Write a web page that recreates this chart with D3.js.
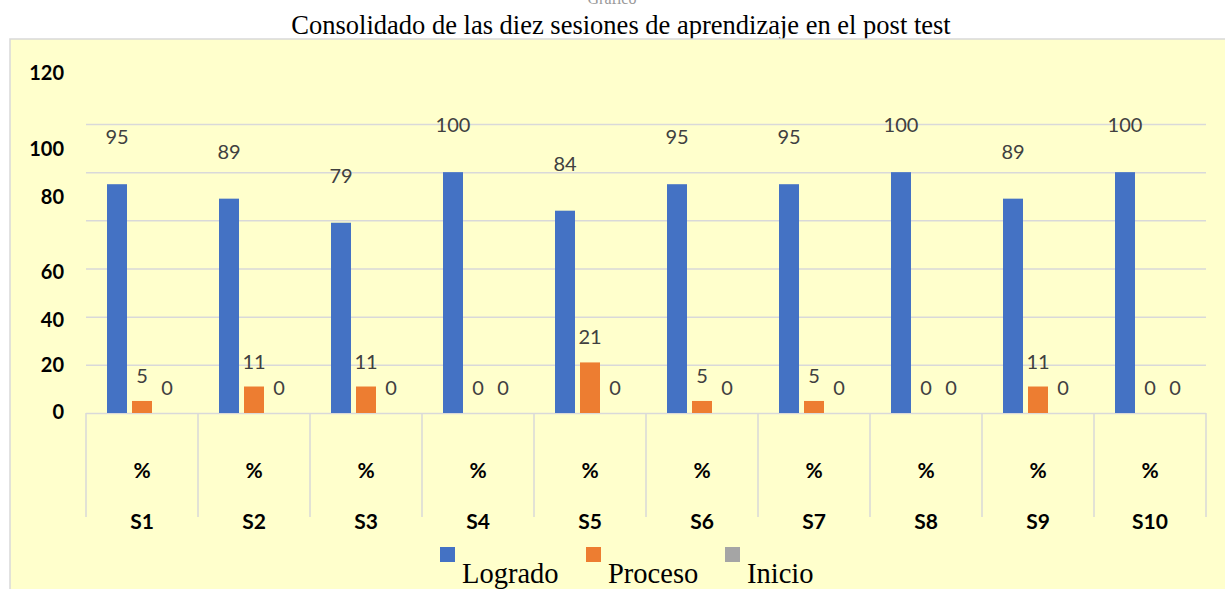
<!DOCTYPE html>
<html>
<head>
<meta charset="utf-8">
<script src="https://cdn.jsdelivr.net/npm/d3@7"></script>
<style>
  body { margin: 0; background: #fff; }
  svg { display: block; }
</style>
</head>
<body>
<div id="chart"></div>
<script>
(function() {

  // datos
  const sessions = ['S1', 'S2', 'S3', 'S4', 'S5', 'S6', 'S7', 'S8', 'S9', 'S10'];
  const unitLabel = '%';
  const seriesNames = ['Logrado', 'Proceso', 'Inicio'];
  const logrado = [95, 89, 79, 100, 84, 95, 95, 100, 89, 100];
  const proceso = [5, 11, 11, 0, 21, 5, 5, 0, 11, 0];
  const inicio = [0, 0, 0, 0, 0, 0, 0, 0, 0, 0];
  const yTicks = [0, 20, 40, 60, 80, 100, 120];

  const colors = {
    Logrado: '#4472C4',
    Proceso: '#ED7D31',
    Inicio: '#A5A5A5'
  };

  const size = { x: 1225, y: 589 };
  const plot = { left: 86, right: 1206, top: 124, bottom: 413 };

  // desplazamiento de las etiquetas del eje y (como en la imagen)
  const tickShift = { 0: -2, 20: 0, 40: 3, 60: 3, 80: -24, 100: -24, 120: -52 };

  const rows = sessions.map((s, i) => ({
    session: s,
    values: [
      { key: 'Logrado', value: logrado[i] },
      { key: 'Proceso', value: proceso[i] },
      { key: 'Inicio', value: inicio[i] }
    ]
  }));

  let svg = d3.select('#chart')
    .append('svg')
    .attr('width', size.x)
    .attr('height', size.y);

  // texto cortado arriba
  svg.append('text')
    .attr('x', 612)
    .attr('y', 4)
    .attr('text-anchor', 'middle')
    .attr('font-family', 'Liberation Serif')
    .attr('font-size', 16)
    .attr('fill', '#999')
    .text('Gráfico');

  svg.append('text')
    .attr('x', 621)
    .attr('y', 34)
    .attr('text-anchor', 'middle')
    .attr('font-family', 'Liberation Serif')
    .attr('font-size', 26.5)
    .attr('fill', '#000')
    .text('Consolidado de las diez sesiones de aprendizaje en el post test');

  // fondo del gráfico
  svg.append('rect')
    .attr('x', 10)
    .attr('y', 39)
    .attr('width', size.x)
    .attr('height', size.y)
    .attr('fill', '#FFFFCC')
    .attr('stroke', '#d9d9d9')
    .attr('stroke-width', 1.5);

  let xScale = d3.scaleBand()
    .domain(sessions)
    .range([plot.left, plot.right]);

  let xInner = d3.scaleBand()
    .domain(seriesNames)
    .range([0, xScale.bandwidth()])
    .paddingInner(0.2)
    .paddingOuter(0.84);

  let yScale = d3.scaleLinear()
    .domain([0, 120])
    .range([plot.bottom, plot.top]);

  // lineas de cuadricula
  svg.append('g')
    .attr('transform', `translate(${plot.left}, 0)`)
    .call(d3.axisLeft(yScale).tickValues(yTicks).tickSize(-(plot.right - plot.left)).tickFormat(''))
    .call(g => g.select('.domain').remove())
    .selectAll('line')
      .attr('stroke', '#d9d9d9')
      .attr('stroke-width', 1.5);

  // etiquetas eje y
  let yAxis = svg.append('g')
    .attr('transform', 'translate(64, 0)')
    .call(d3.axisLeft(yScale).tickValues(yTicks).tickSize(0).tickPadding(0));
  yAxis.select('.domain').remove();
  yAxis.selectAll('text')
    .attr('font-family', 'Lato')
    .attr('font-weight', 'bold')
    .attr('font-size', 20)
    .attr('fill', '#000')
    .attr('dy', d => (tickShift[d] || 0) + 7);

  // divisiones de categorias
  let catLines = sessions.map(s => xScale(s)).concat([plot.right]);
  svg.append('g')
    .selectAll('line')
    .data(catLines)
    .enter()
    .append('line')
      .attr('x1', d => d)
      .attr('x2', d => d)
      .attr('y1', plot.bottom)
      .attr('y2', 517)
      .attr('stroke', '#d9d9d9')
      .attr('stroke-width', 1.5);

  let cats = svg.append('g')
    .selectAll('.cat')
    .data(sessions)
    .enter()
    .append('g')
      .attr('class', 'cat')
      .attr('transform', d => `translate(${xScale(d) + xScale.bandwidth() / 2}, 0)`);

  cats.append('text')
    .attr('y', 478)
    .attr('text-anchor', 'middle')
    .attr('font-family', 'Lato')
    .attr('font-weight', 'bold')
    .attr('font-size', 21)
    .text(unitLabel);

  cats.append('text')
    .attr('y', 529)
    .attr('text-anchor', 'middle')
    .attr('font-family', 'Lato')
    .attr('font-weight', 'bold')
    .attr('font-size', 21)
    .text(d => d);

  // barras
  let groups = svg.append('g')
    .selectAll('.grp')
    .data(rows)
    .enter()
    .append('g')
      .attr('class', 'grp')
      .attr('transform', d => `translate(${xScale(d.session)}, 0)`);

  groups.selectAll('rect')
    .data(d => d.values)
    .enter()
    .append('rect')
      .attr('x', d => xInner(d.key))
      .attr('y', d => yScale(d.value))
      .attr('width', xInner.bandwidth())
      .attr('height', d => plot.bottom - yScale(d.value))
      .attr('fill', d => colors[d.key]);

  groups.selectAll('.lbl')
    .data(d => d.values)
    .enter()
    .append('text')
      .attr('class', 'lbl')
      .attr('x', d => xInner(d.key) + xInner.bandwidth() / 2)
      .attr('y', d => yScale(d.value) + (d.key == 'Logrado' ? -40 : -18))
      .attr('text-anchor', 'middle')
      .attr('font-family', 'Lato')
      .attr('font-size', 20)
      .attr('fill', '#404040')
      .text(d => d.value);

  // leyenda
  const legendX = [440, 586, 725];
  let legend = svg.append('g')
    .selectAll('.leg')
    .data(seriesNames)
    .enter()
    .append('g')
      .attr('class', 'leg')
      .attr('transform', (d, i) => `translate(${legendX[i]}, 547)`);

  legend.append('rect')
    .attr('width', 15)
    .attr('height', 15)
    .attr('fill', d => colors[d]);

  legend.append('text')
    .attr('x', 22)
    .attr('y', 36)
    .attr('font-family', 'Liberation Serif')
    .attr('font-size', 28.5)
    .attr('fill', '#000')
    .text(d => d);

}());
</script>
</body>
</html>
